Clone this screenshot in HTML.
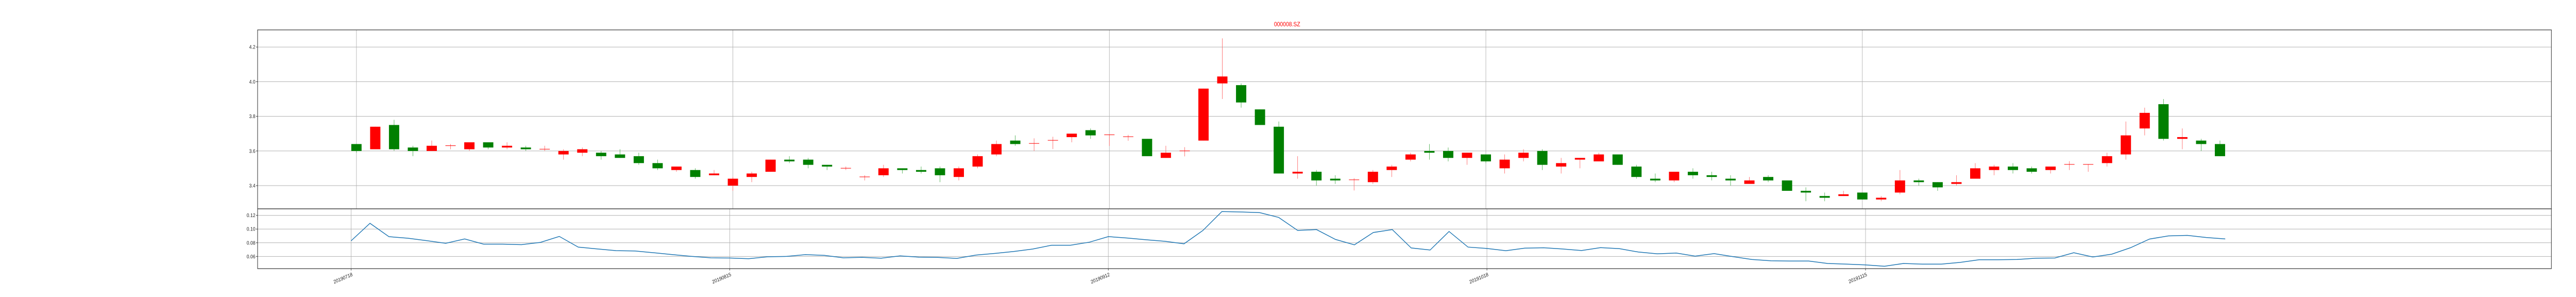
<!DOCTYPE html>
<html><head><meta charset="utf-8"><style>
html,body{margin:0;padding:0;background:#fff;width:100%;height:100%;overflow:hidden;}
svg{display:block;position:absolute;left:0;top:0;width:100vw;height:100vh;font-family:"Liberation Sans","DejaVu Sans",sans-serif;}
</style></head><body>
<svg id="chart" viewBox="0 0 5760 576" preserveAspectRatio="none" xmlns="http://www.w3.org/2000/svg">
<rect x="0" y="0" width="5760" height="576" fill="#fff"/>
<text x="2878" y="51" font-size="12" fill="#ff0000" text-anchor="middle">000008.SZ</text>
<g id="grid"></g>
<g id="marks"></g>
<g id="axes"></g>
</svg>
<script>
const opens  = [3.64,3.61,3.75,3.62,3.60,3.63,3.61,3.65,3.62,3.62,3.61,3.58,3.59,3.59,3.58,3.57,3.53,3.49,3.49,3.46,3.40,3.45,3.48,3.55,3.55,3.52,3.50,3.45,3.46,3.50,3.49,3.50,3.45,3.51,3.58,3.66,3.643,3.661,3.68,3.72,3.693,3.682,3.67,3.56,3.60,3.66,3.99,3.98,3.84,3.74,3.47,3.48,3.44,3.433,3.42,3.49,3.55,3.60,3.60,3.56,3.58,3.50,3.56,3.60,3.51,3.55,3.54,3.58,3.51,3.44,3.43,3.48,3.46,3.44,3.41,3.45,3.43,3.37,3.34,3.34,3.36,3.32,3.36,3.43,3.42,3.41,3.44,3.49,3.51,3.50,3.49,3.522,3.522,3.53,3.58,3.73,3.87,3.67,3.66,3.64];
const closes = [3.60,3.74,3.61,3.60,3.63,3.632,3.65,3.62,3.63,3.61,3.612,3.60,3.61,3.57,3.56,3.53,3.50,3.51,3.45,3.47,3.44,3.47,3.55,3.54,3.52,3.51,3.502,3.452,3.50,3.49,3.48,3.46,3.50,3.57,3.64,3.64,3.645,3.663,3.70,3.69,3.695,3.684,3.57,3.59,3.602,3.96,4.03,3.88,3.75,3.47,3.48,3.43,3.43,3.435,3.48,3.51,3.58,3.59,3.56,3.59,3.54,3.55,3.59,3.52,3.53,3.56,3.58,3.52,3.45,3.43,3.48,3.46,3.45,3.43,3.43,3.43,3.37,3.36,3.33,3.35,3.32,3.33,3.43,3.42,3.39,3.42,3.50,3.51,3.49,3.48,3.51,3.524,3.524,3.57,3.69,3.82,3.67,3.68,3.64,3.57];
const highs  = [3.64,3.74,3.78,3.63,3.66,3.64,3.65,3.65,3.65,3.63,3.63,3.61,3.62,3.60,3.61,3.59,3.55,3.51,3.50,3.49,3.45,3.48,3.55,3.57,3.56,3.52,3.51,3.46,3.52,3.50,3.51,3.51,3.51,3.58,3.66,3.69,3.673,3.682,3.70,3.73,3.695,3.693,3.67,3.63,3.622,3.96,4.25,3.99,3.84,3.77,3.57,3.49,3.46,3.443,3.49,3.52,3.59,3.64,3.62,3.59,3.58,3.58,3.61,3.61,3.56,3.56,3.59,3.58,3.52,3.47,3.48,3.50,3.48,3.46,3.45,3.46,3.43,3.39,3.36,3.37,3.36,3.34,3.49,3.44,3.42,3.46,3.53,3.52,3.53,3.51,3.51,3.541,3.524,3.59,3.77,3.85,3.90,3.73,3.67,3.66];
const lows   = [3.59,3.61,3.60,3.57,3.60,3.61,3.60,3.61,3.61,3.60,3.60,3.55,3.57,3.55,3.56,3.52,3.49,3.48,3.44,3.46,3.37,3.42,3.48,3.53,3.50,3.49,3.49,3.43,3.45,3.47,3.47,3.42,3.43,3.50,3.57,3.63,3.60,3.611,3.65,3.67,3.629,3.659,3.57,3.56,3.569,3.66,3.90,3.85,3.75,3.47,3.44,3.40,3.41,3.372,3.41,3.45,3.54,3.55,3.54,3.52,3.53,3.47,3.54,3.49,3.47,3.50,3.54,3.52,3.44,3.42,3.42,3.44,3.43,3.40,3.41,3.42,3.37,3.31,3.31,3.34,3.32,3.31,3.35,3.40,3.37,3.40,3.44,3.46,3.47,3.47,3.47,3.49,3.48,3.51,3.55,3.69,3.66,3.61,3.60,3.57];
const volRatio = [0.0828,0.1084,0.0889,0.0866,0.083,0.0792,0.0856,0.078,0.078,0.0772,0.0805,0.0893,0.0736,0.071,0.0685,0.068,0.0654,0.0626,0.060,0.058,0.0577,0.0567,0.0595,0.060,0.0626,0.0615,0.058,0.0587,0.0574,0.0608,0.059,0.0585,0.0572,0.062,0.0644,0.0672,0.0708,0.0764,0.0764,0.0808,0.089,0.0869,0.0844,0.0821,0.0785,0.098,0.1256,0.125,0.124,0.117,0.098,0.0992,0.0848,0.077,0.095,0.0992,0.0724,0.0694,0.0965,0.0737,0.0716,0.0684,0.0722,0.0727,0.0709,0.0686,0.0729,0.0713,0.0664,0.0638,0.0649,0.0605,0.0641,0.0597,0.0556,0.0536,0.0533,0.0533,0.0497,0.0487,0.0477,0.0456,0.0497,0.0487,0.0487,0.0513,0.0551,0.0551,0.0556,0.0574,0.0577,0.0654,0.0592,0.0633,0.0728,0.0854,0.090,0.0908,0.0877,0.0856];
const dateLabels = ["20190718","20190815","20190912","20191018","20191115"];
const dateIdx = [0,20,40,60,80];
const priceTicks = [3.4,3.6,3.8,4.0,4.2];
const ratioTicks = [0.06,0.08,0.10,0.12];

const NS="http://www.w3.org/2000/svg";
const L=576,R=5705,T1=58,B1=405,B2=521;
const xMain=i=>797+42.09*i;
const xLow=j=>785+42.33*j;
const yMain=v=>292.8-(v-3.6)*336;
const yLow=v=>470.8-(v-0.08)*1327;
function mk(tag,attrs,parent){const e=document.createElementNS(NS,tag);for(const k in attrs)e.setAttribute(k,attrs[k]);parent.appendChild(e);return e;}
const grid=document.getElementById('grid'),marks=document.getElementById('marks'),axes=document.getElementById('axes');

priceTicks.forEach(t=>{const y=yMain(t);
 let g=mk('line',{x1:L,x2:R,y1:y,y2:y,stroke:'#b0b0b0','stroke-width':1},grid);
 
 
 mk('line',{x1:L-3.5,x2:L,y1:y,y2:y,stroke:'#333','stroke-width':1},axes);
 let tx=mk('text',{x:L-5,y:y+3.5,'font-size':10,'text-anchor':'end',fill:'#222'},axes);tx.textContent=t.toFixed(1);
 
 
});
ratioTicks.forEach(t=>{const y=yLow(t);
 let g=mk('line',{x1:L,x2:R,y1:y,y2:y,stroke:'#b0b0b0','stroke-width':1},grid);
 
 
 mk('line',{x1:L-3.5,x2:L,y1:y,y2:y,stroke:'#333','stroke-width':1},axes);
 let tx=mk('text',{x:L-5,y:y+3.5,'font-size':10,'text-anchor':'end',fill:'#222'},axes);tx.textContent=t.toFixed(2);
 
 
});
dateIdx.forEach((d,k)=>{
 const xm=xMain(d),xl=xLow(d);
 let g1=mk('line',{x1:xm,x2:xm,y1:T1,y2:B1,stroke:'#b0b0b0','stroke-width':1},grid);
 
 
 mk('line',{x1:xl,x2:xl,y1:B1,y2:B2,stroke:'#b0b0b0','stroke-width':1},grid);
 mk('line',{x1:xl,x2:xl,y1:B2,y2:B2+3.5,stroke:'#333','stroke-width':1},axes);
 let tx=mk('text',{x:xl+4,y:B2+14,'font-size':10,'text-anchor':'end',fill:'#222',transform:`rotate(-20 ${xl+4} ${B2+14})`},axes);
 tx.textContent=dateLabels[k];
 
 
});
opens.forEach((o,i)=>{
 const c=closes[i],up=c>=o,col=up?'#ff0000':'#008000',wc=up?'#ff6666':'#4caf50',x=xMain(i);
 let w=mk('line',{x1:x,x2:x,y1:yMain(highs[i]),y2:yMain(lows[i]),stroke:wc,'stroke-width':1},marks);
 
 
 const yt=yMain(Math.max(o,c)),yb=yMain(Math.min(o,c));
 let b=mk('rect',{x:x-11.5,y:yt,width:23,height:Math.max(yb-yt,1),fill:col},marks);
 
 
});
let pts=volRatio.map((v,j)=>xLow(j).toFixed(1)+','+yLow(v).toFixed(1)).join(' ');
let pl=mk('polyline',{points:pts,fill:'none',stroke:'#1f77b4','stroke-width':1.5},marks);


let f1=mk('rect',{x:L,y:T1,width:R-L,height:B1-T1,fill:'none',stroke:'#333','stroke-width':1.2},axes);


let f2=mk('rect',{x:L,y:B1,width:R-L,height:B2-B1,fill:'none',stroke:'#333','stroke-width':1.2},axes);


</script>
</body></html>
